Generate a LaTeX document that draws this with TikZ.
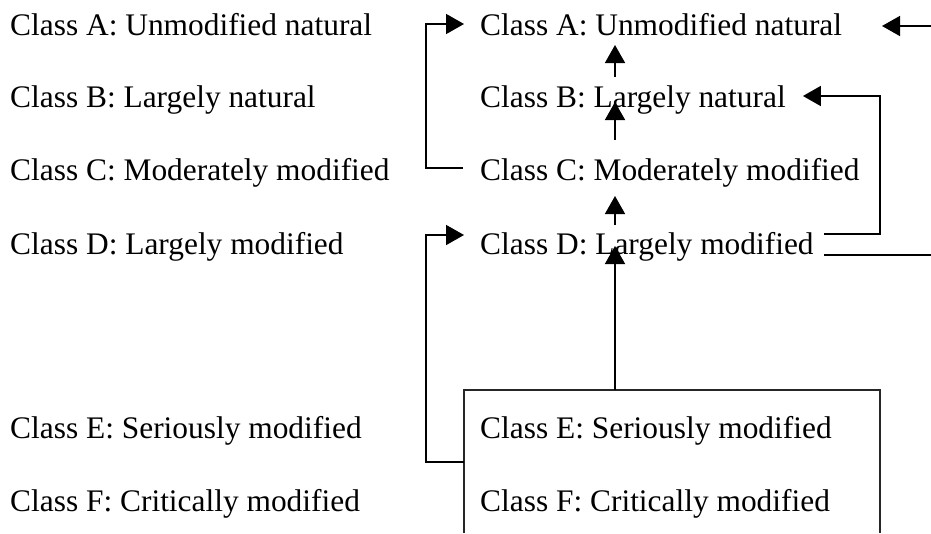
\documentclass[tikz,border=0pt]{standalone}
\usepackage{fontspec}
\setmainfont{Liberation Serif}
\usetikzlibrary{arrows.meta,calc}
\begin{document}
\begin{tikzpicture}[x=1pt,y=-1pt,
  lbl/.style={anchor=base west,inner sep=0pt,font=\fontsize{31.4}{36}\selectfont},
  conn/.style={line width=1.6pt},
  arr/.style={conn,-{Triangle[length=18pt,width=20pt]}},
  boxline/.style={line width=1.4pt,draw=black!85}]
\useasboundingbox (0,0) rectangle (931,533);
% left column
\node[lbl] (lA) at (10,35)  {Class A: Unmodified natural};
\node[lbl] (lB) at (10,107) {Class B: Largely natural};
\node[lbl] (lC) at (10,180) {Class C: Moderately modified};
\node[lbl] (lD) at (10,254) {Class D: Largely modified};
\node[lbl] (lE) at (10,438) {Class E: Seriously modified};
\node[lbl] (lF) at (10,511) {Class F: Critically modified};
% right column
\node[lbl] (rA) at (480,35)  {Class A: Unmodified natural};
\node[lbl] (rB) at (480,107) {Class B: Largely natural};
\node[lbl] (rC) at (480,180) {Class C: Moderately modified};
\node[lbl] (rD) at (480,254) {Class D: Largely modified};
\node[lbl] (rE) at (480,438) {Class E: Seriously modified};
\node[lbl] (rF) at (480,511) {Class F: Critically modified};
% box around E and F (open at the bottom)
\coordinate (boxSW) at (464,533);
\coordinate (boxNW) at (464,390);
\coordinate (boxNE) at (880,390);
\coordinate (boxSE) at (880,533);
\draw[boxline] (boxSW) -- (boxNW) -- (boxNE) -- (boxSE);
\coordinate (boxTop) at (615,390);
% anchor points of the connectors
\coordinate (cOut) at ([shift={(-17,-12)}]rC.base west);
\coordinate (aIn)  at ([shift={(-16,-11)}]rA.base west);
\coordinate (eOut) at ([shift={(0,24)}]rE.base west -| boxNW);
\coordinate (dInL) at ([shift={(-16,-19)}]rD.base west);
\coordinate (dOutU) at ([shift={(10,-20)}]rD.base east);
\coordinate (dOutL) at ([shift={(10,1)}]rD.base east);
\coordinate (bInR) at ([shift={(17,-11)}]rB.base east);
\coordinate (inA) at (931,26);
\coordinate (aInR) at (882,26);
\coordinate (outD) at (931,255);
\coordinate (sideX) at (880,0);
\coordinate (leftX) at (426,0);
% left brackets
\draw[arr] (cOut) -- (leftX |- cOut) |- (aIn);
\draw[arr] (eOut) -- (leftX |- eOut) |- (dInL);
% vertical arrows
\draw[arr] ([shift={(135,-30)}]rB.base west) -- ([shift={(135,10)}]rA.base west);
\draw[arr] ([shift={(135,-40)}]rC.base west) -- ([shift={(135,-5)}]rB.base west);
\draw[arr] ([shift={(135,-29)}]rD.base west) -- ([shift={(135,16)}]rC.base west);
\draw[arr] (boxTop) -- ([shift={(135,-8)}]rD.base west);
% right side arrows
\draw[arr] (inA) -- (aInR);
\draw[arr] (dOutU) -- (sideX |- dOutU) |- (bInR);
\draw[conn] (dOutL) -- (outD);
\end{tikzpicture}
\end{document}
